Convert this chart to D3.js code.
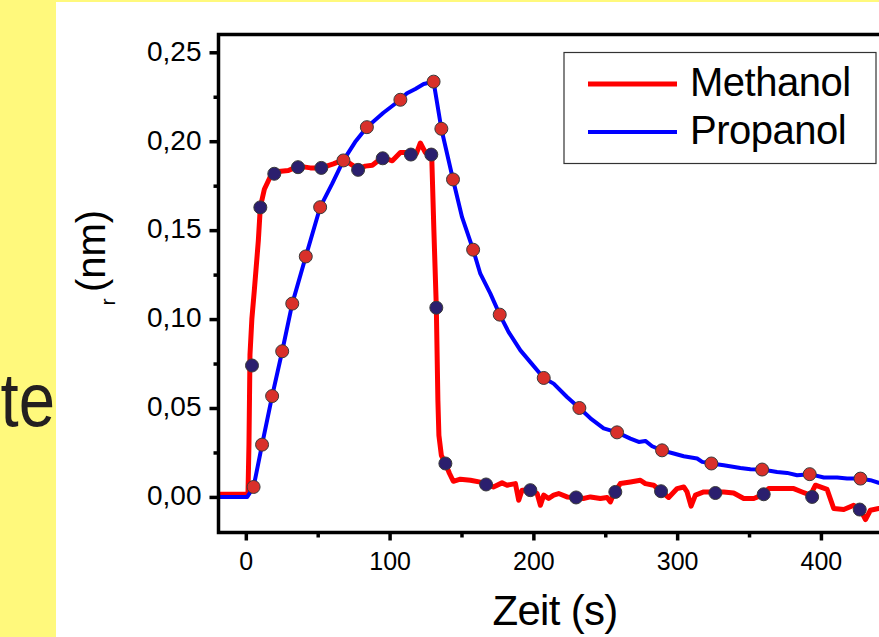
<!DOCTYPE html>
<html>
<head>
<meta charset="utf-8">
<script src="https://cdn.jsdelivr.net/npm/d3@7"></script>
<style>
	body { margin: 0; overflow: hidden; background: #fff97c; }
	svg { display: block; font-family: Arial, "Liberation Sans", sans-serif; }
</style>
</head>
<body>
<svg id="chart" width="879" height="637"></svg>
<script>
// data (time in s, r in nm)
const methanolT = [-19, 1.5, 2.2, 2.9, 4.2, 5.9, 8.7, 10.1, 12.9, 17, 22.6, 29.6, 36.5, 44.9, 52.5, 60.9, 67.8, 72.7, 78.3, 83.1, 88, 92.2, 97, 101.9, 107.5, 114.4, 118.6, 121.4, 124.9, 129, 129.4, 130.8, 132.5, 133.6, 134.3, 136, 138.8, 141.6, 144.3, 149.2, 156.2, 163.1, 167.3, 172.2, 178.2, 181.7, 187.5, 189.8, 192.1, 197.9, 202.6, 204.9, 207.2, 210.6, 214.1, 217.6, 223.4, 229.7, 234.8, 239.7, 246.6, 251.3, 253.6, 255.9, 260.5, 267.5, 274.4, 277.9, 283.7, 289.5, 294.1, 300, 304.6, 306.9, 309.7, 312.7, 318.5, 325.4, 332.4, 339.3, 346.3, 353.3, 359.1, 363.7, 371.8, 381.1, 386.9, 392.7, 396.2, 404.3, 408.9, 415.9, 422.8, 427.5, 431, 434.4, 440.2, 450];
const methanolR = [0.0015, 0.0015, 0.03, 0.08, 0.1, 0.116, 0.144, 0.163, 0.173, 0.18, 0.183, 0.1835, 0.186, 0.185, 0.185, 0.1873, 0.1895, 0.1873, 0.1845, 0.186, 0.1865, 0.1892, 0.1903, 0.189, 0.1936, 0.1936, 0.193, 0.199, 0.1936, 0.1948, 0.189, 0.15, 0.1065, 0.054, 0.0346, 0.0234, 0.0189, 0.0133, 0.0088, 0.01, 0.0094, 0.0083, 0.0071, 0.0056, 0.0079, 0.0066, 0.0075, -0.0019, 0.0038, 0.0038, 0.0019, -0.0047, 0.001, -0.0009, 0.001, 0.0019, 0, -0.0003, -0.0009, 0, -0.0009, -0.0003, -0.0028, 0.0019, 0.0075, 0.0084, 0.0094, 0.0075, 0.0066, 0.0028, -0.0003, 0.0047, 0.0056, 0.0028, -0.0052, 0.001, 0.0028, 0.0028, 0.0028, 0.0022, -0.0009, -0.0009, 0.001, 0.0047, 0.0047, 0.0047, 0.0028, 0.001, 0.0066, 0.0042, -0.0065, -0.0071, -0.0047, -0.0071, -0.0127, -0.0075, -0.0065, -0.007];

const propanolT = [-19, 1, 5.4, 11.3, 18.3, 25.3, 32.3, 41.7, 51.7, 60, 67.9, 76, 84.2, 95.7, 107.5, 112.1, 117.9, 123.7, 130.6, 136, 144.1, 150.4, 158.1, 163.1, 170.1, 176.6, 182.8, 191, 197.9, 207.2, 214.1, 223.4, 232, 239.7, 248.9, 258.2, 267.5, 273.3, 277.9, 282.6, 289.5, 297.6, 304.6, 313.9, 317.4, 323.8, 332.4, 344, 351, 359.1, 369.5, 376.5, 383.4, 392.2, 402, 411.3, 418.2, 427.5, 434.4, 440.2, 450];
const propanolR = [0, 0, 0.0056, 0.0294, 0.0567, 0.0819, 0.1087, 0.1352, 0.1629, 0.176, 0.1892, 0.1995, 0.2079, 0.216, 0.2233, 0.227, 0.2294, 0.2322, 0.2335, 0.207, 0.1785, 0.1573, 0.139, 0.1255, 0.1143, 0.1025, 0.0927, 0.0824, 0.0758, 0.0669, 0.0637, 0.0562, 0.05, 0.0442, 0.0385, 0.0363, 0.0328, 0.0309, 0.0315, 0.0285, 0.0262, 0.0244, 0.0229, 0.0216, 0.0197, 0.0188, 0.0178, 0.0163, 0.0156, 0.0154, 0.014, 0.0135, 0.0122, 0.0128, 0.0109, 0.0109, 0.0103, 0.0103, 0.0094, 0.0079, 0.007];

// symbols (every n-th point in the original plot)
const methanolMarkT = [4.3, 10.1, 19.8, 36.3, 52.5, 78.1, 95.2, 114.8, 129, 132.5, 138.8, 167.1, 197.9, 229.7, 257, 288.8, 326.6, 360.2, 393.9, 427];
const methanolMarkR = [0.0739, 0.1628, 0.1817, 0.1854, 0.185, 0.1839, 0.1904, 0.1925, 0.1925, 0.1064, 0.0188, 0.007, 0.0038, -0.0003, 0.0028, 0.0032, 0.0022, 0.0015, 0, -0.0071];
const propanolMarkT = [5.4, 11.3, 18.3, 25.3, 32.3, 41.7, 51.7, 67.9, 84.2, 107.5, 130.6, 136, 144.1, 158.1, 176.6, 207.2, 232, 258.2, 289.5, 323.8, 359.1, 392.2, 427.5];
const propanolMarkR = [0.0056, 0.0294, 0.0567, 0.0819, 0.1087, 0.1352, 0.1629, 0.1892, 0.2079, 0.2233, 0.2335, 0.207, 0.1785, 0.139, 0.1025, 0.0669, 0.05, 0.0363, 0.0262, 0.0188, 0.0154, 0.0128, 0.0103];

const xTicks = [0, 100, 200, 300, 400];
const xMinorTicks = [50, 150, 250, 350, 450];
const yTicks = [0, 0.05, 0.10, 0.15, 0.20, 0.25];
const yMinorTicks = [0.025, 0.075, 0.125, 0.175, 0.225];
const legendLabels = ['Methanol', 'Propanol'];

// dimension stuff
const width = 879;
const height = 637;
const plotLeft = 218.5;
const plotRight = 900; // frame runs past the window edge
const plotTop = 34.5;
const plotBottom = 532.5;
const axisWidth = 3.5;

const lineColors = ['#ff0000', '#0000ff'];
const markColors = ['#2b1f6e', '#d9302a'];

const $svg = d3.select('#chart');

// slide background: yellow strip left, white content area
$svg.append('rect').attr('width', width).attr('height', height).attr('fill', '#fff97c');
$svg.append('rect').attr('x', 56).attr('y', 2).attr('width', width - 56).attr('height', height - 2).attr('fill', '#ffffff');

// left-over slide text
$svg.append('text')
	.attr('transform', 'translate(55, 426) scale(0.86, 1)')
	.attr('text-anchor', 'end')
	.attr('font-size', 76)
	.attr('fill', '#231f20')
	.text('te');

// scales
const scaleX = d3.scaleLinear().domain([-19, 455]).range([plotLeft, plotRight]);
const scaleY = d3.scaleLinear().domain([-0.02, 0.26]).range([plotBottom, plotTop]);

const locale = d3.formatLocale({ decimal: ',', thousands: '.', grouping: [3], currency: ['', ''] });
const fmtY = locale.format('.2f');

// clip so the curves stay inside the frame
$svg.append('defs').append('clipPath').attr('id', 'plot-clip')
	.append('rect')
	.attr('x', plotLeft).attr('y', plotTop)
	.attr('width', plotRight - plotLeft).attr('height', plotBottom - plotTop);

const $vis = $svg.append('g').attr('clip-path', 'url(#plot-clip)');

const line = d3.line()
	.x(d => scaleX(d[0]))
	.y(d => scaleY(d[1]));

const series = [
	d3.zip(methanolT, methanolR),
	d3.zip(propanolT, propanolR)
];
const widths = [5, 4];

series.forEach((s, i) => {
	$vis.append('path')
		.datum(s)
		.attr('d', line)
		.attr('fill', 'none')
		.attr('stroke', lineColors[i])
		.attr('stroke-width', widths[i])
		.attr('stroke-linejoin', 'round');
});

const marks = [
	d3.zip(methanolMarkT, methanolMarkR),
	d3.zip(propanolMarkT, propanolMarkR)
];

marks.forEach((m, i) => {
	$vis.append('g').selectAll('circle')
		.data(m)
		.join('circle')
		.attr('cx', d => scaleX(d[0]))
		.attr('cy', d => scaleY(d[1]))
		.attr('r', 6.5)
		.attr('fill', markColors[i])
		.attr('stroke', '#3a3a3a')
		.attr('stroke-width', 1);
});

// axes
function styleAxis($g, size) {
	$g.select('.domain').remove();
	$g.selectAll('line').attr('stroke', '#000').attr('stroke-width', axisWidth);
	$g.selectAll('text').attr('fill', '#000').attr('font-size', size).attr('font-family', 'Arial, "Liberation Sans", sans-serif');
}

const $yAxis = $svg.append('g')
	.attr('transform', `translate(${plotLeft},0)`)
	.call(d3.axisLeft(scaleY).tickValues(yTicks).tickSize(9).tickPadding(8).tickFormat(fmtY));
styleAxis($yAxis, 28);
$yAxis.selectAll('text').attr('dy', '0.28em');

$svg.append('g')
	.attr('transform', `translate(${plotLeft},0)`)
	.call(d3.axisLeft(scaleY).tickValues(yMinorTicks).tickSize(5).tickFormat(''))
	.call($g => styleAxis($g, 0));

const $xAxis = $svg.append('g')
	.attr('transform', `translate(0,${plotBottom})`)
	.call(d3.axisBottom(scaleX).tickValues(xTicks).tickSize(8).tickPadding(12).tickFormat(d3.format('d')));
styleAxis($xAxis, 25);

$svg.append('g')
	.attr('transform', `translate(0,${plotBottom})`)
	.call(d3.axisBottom(scaleX).tickValues(xMinorTicks).tickSize(5).tickFormat(''))
	.call($g => styleAxis($g, 0));

// frame
$svg.append('path')
	.attr('d', `M${plotRight},${plotTop}H${plotLeft}V${plotBottom}H${plotRight}`)
	.attr('fill', 'none')
	.attr('stroke', '#000')
	.attr('stroke-width', axisWidth)
	.attr('stroke-linecap', 'square');

// axis titles
$svg.append('text')
	.attr('x', 555)
	.attr('y', 625)
	.attr('text-anchor', 'middle')
	.attr('font-size', 42)
	.attr('letter-spacing', -0.7)
	.text('Zeit (s)');

$svg.append('text')
	.attr('transform', 'translate(105, 251) rotate(-90)')
	.attr('text-anchor', 'middle')
	.attr('font-size', 40)
	.text('(nm)');

$svg.append('text')
	.attr('transform', 'translate(115, 302) rotate(-90)')
	.attr('text-anchor', 'middle')
	.attr('font-size', 21)
	.text('r');

// legend
const $legend = $svg.append('g').attr('class', 'g-legend');
$legend.append('rect')
	.attr('x', 564).attr('y', 52.5)
	.attr('width', 312).attr('height', 111)
	.attr('fill', '#fff')
	.attr('stroke', '#333')
	.attr('stroke-width', 1.2);

const legendRows = $legend.selectAll('.legend-row')
	.data(legendLabels)
	.join('g')
	.attr('class', 'legend-row')
	.attr('transform', (d, i) => `translate(0, ${84 + i * 48})`);

legendRows.append('line')
	.attr('x1', 588).attr('x2', 677)
	.attr('stroke', (d, i) => lineColors[i])
	.attr('stroke-width', (d, i) => widths[i]);

legendRows.append('text')
	.attr('x', 690)
	.attr('y', 12)
	.attr('font-size', 40)
	.attr('letter-spacing', -0.5)
	.text(d => d);
</script>
</body>
</html>
